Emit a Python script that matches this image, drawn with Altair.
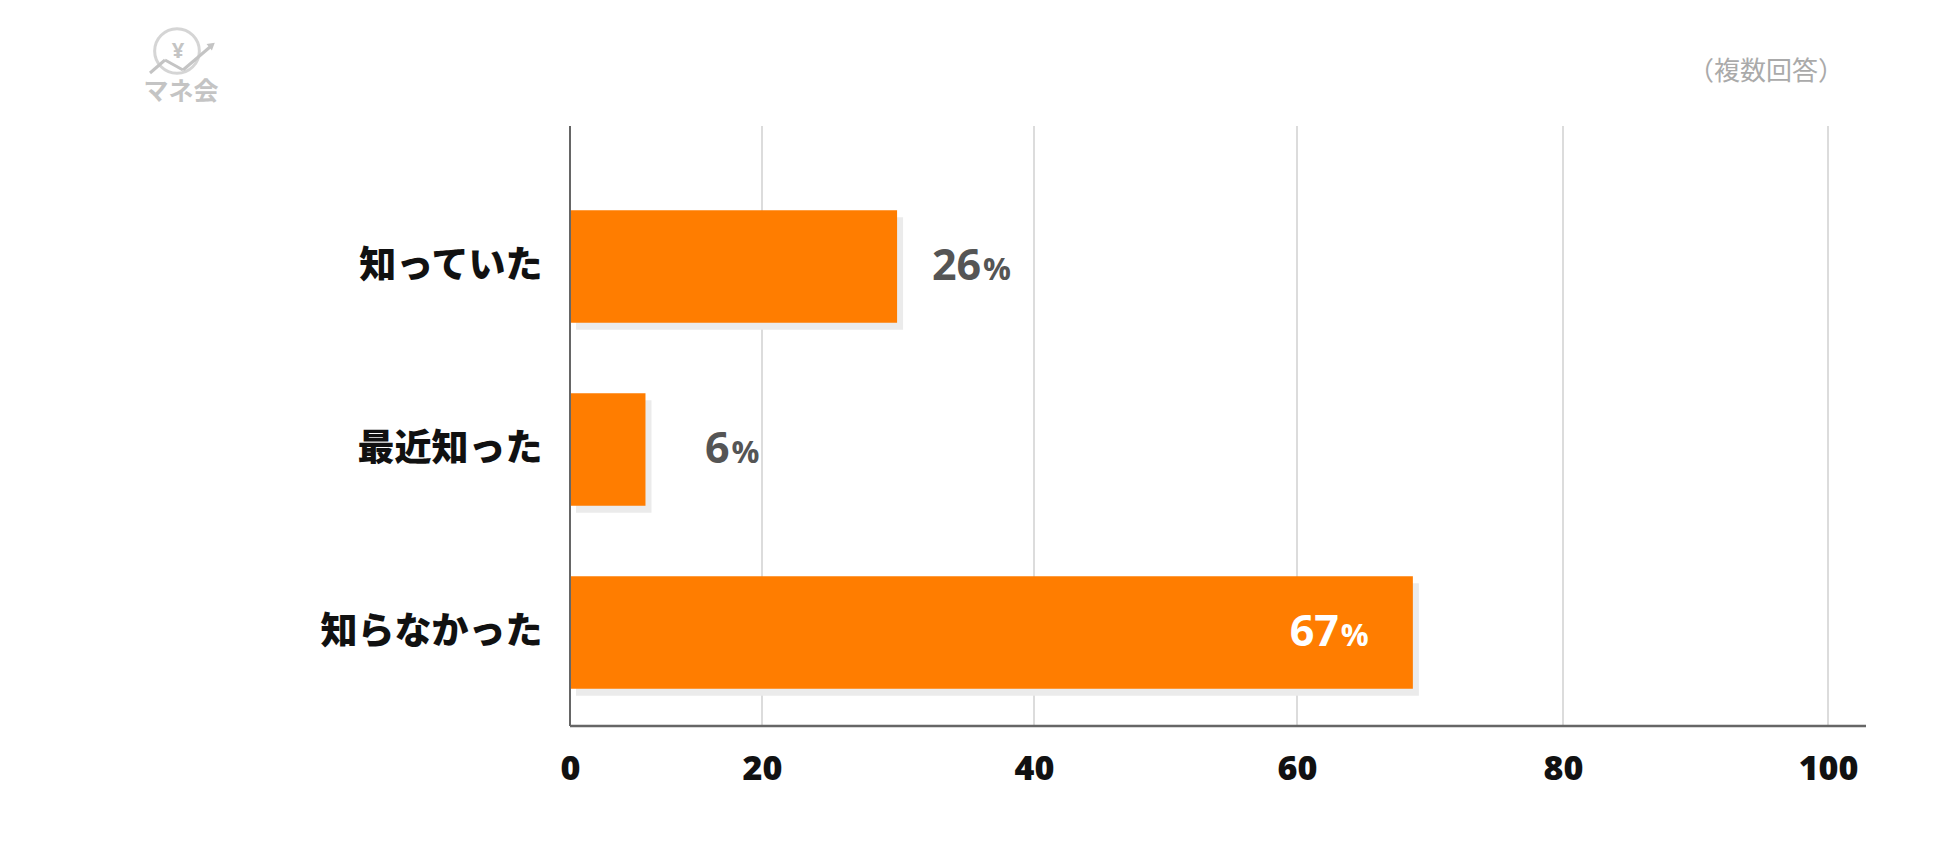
import altair as alt
import pandas as pd

categories = ["知っていた", "最近知った", "知らなかった"]
values = [26, 6, 67]
tick_values = [0, 20, 40, 60, 80, 100]

df = pd.DataFrame({"cat": categories, "value": values})
grid_df = pd.DataFrame({"tick": tick_values})
one = pd.DataFrame({"a": [0]})

W, H = 1296, 600
JP = "Noto Sans CJK JP"
NUM = "Open Sans"

def xbar():
    return alt.X("value:Q", scale=alt.Scale(domain=[0, 100], range=[0, 1258], nice=False, zero=True), axis=None)

yscale = alt.Scale(domain=categories, range=[49, 598], paddingInner=0.386, paddingOuter=0.193)
yaxis = alt.Axis(title=None, domain=False, ticks=False, grid=False, labelFont=JP, labelFontSize=37,
                 labelFontWeight=900, labelColor="#111", labelPadding=28, labelLimit=500)

def ybar():
    return alt.Y("cat:N", scale=yscale, sort=categories, axis=yaxis)

grid = alt.Chart(grid_df).mark_rule(color="#d0d0d0", strokeWidth=1.5).encode(
    x=alt.X("tick:Q",
            scale=alt.Scale(domain=tick_values, range=[0, 192, 464, 727, 993, 1258], nice=False, zero=False),
            axis=alt.Axis(values=tick_values, title=None, domain=False, ticks=False, grid=False,
                          labelFont=NUM, labelFontSize=34, labelFontWeight=800, labelColor="#111",
                          labelPadding=26, labelFlush=False, format="d")),
    y=alt.value(0), y2=alt.value(H),
)

shadow = alt.Chart(df).mark_bar(color="#ebebeb", xOffset=6, x2Offset=6, yOffset=7, y2Offset=7).encode(
    x=xbar(), y=ybar()
)

bars = alt.Chart(df).mark_bar(color="#FF7D00").encode(x=xbar(), y=ybar())

out = alt.Chart(df).transform_filter("datum.value < 50")
out_num = out.mark_text(align="right", baseline="alphabetic", dx=84, dy=13, font=NUM, fontSize=43,
                        fontWeight="bold", color="#555555").encode(x=xbar(), y=ybar(), text="value:Q")
out_pct = out.mark_text(align="left", baseline="alphabetic", dx=86, dy=13, font=NUM, fontSize=31,
                        fontWeight="bold", color="#555555").encode(x=xbar(), y=ybar(), text=alt.value("%"))

ins = alt.Chart(df).transform_filter("datum.value >= 50")
in_num = ins.mark_text(align="right", baseline="alphabetic", dx=-74, dy=13, font=NUM, fontSize=43,
                       fontWeight="bold", color="white").encode(x=xbar(), y=ybar(), text="value:Q")
in_pct = ins.mark_text(align="left", baseline="alphabetic", dx=-72, dy=13, font=NUM, fontSize=31,
                       fontWeight="bold", color="white").encode(x=xbar(), y=ybar(), text=alt.value("%"))

axis_x = alt.Chart(one).mark_rule(color="#666666", strokeWidth=2.5).encode(
    x=alt.value(0), x2=alt.value(W), y=alt.value(H), y2=alt.value(H))
axis_y = alt.Chart(one).mark_rule(color="#666666", strokeWidth=2).encode(
    x=alt.value(0), x2=alt.value(0), y=alt.value(0), y2=alt.value(H))

note = alt.Chart(one).mark_text(align="center", baseline="middle", font=JP, fontSize=26, color="#aaaaaa").encode(
    x=alt.value(1196), y=alt.value(-54), text=alt.value("（複数回答）"))

LOGO = "#c4c4c4"
logo_circle = alt.Chart(one).mark_point(shape="circle", filled=False, size=2000, strokeWidth=3, color=LOGO).encode(
    x=alt.value(-393), y=alt.value(-75))
logo_yen = alt.Chart(one).mark_text(align="center", baseline="middle", font=NUM, fontSize=22, fontWeight="bold",
                                    color=LOGO).encode(x=alt.value(-392), y=alt.value(-75), text=alt.value("¥"))
seg1 = alt.Chart(one).mark_rule(color=LOGO, strokeWidth=3).encode(
    x=alt.value(-420), y=alt.value(-53), x2=alt.value(-405), y2=alt.value(-66))
seg2 = alt.Chart(one).mark_rule(color=LOGO, strokeWidth=3).encode(
    x=alt.value(-405), y=alt.value(-66), x2=alt.value(-387), y2=alt.value(-56))
seg3 = alt.Chart(one).mark_rule(color=LOGO, strokeWidth=3).encode(
    x=alt.value(-387), y=alt.value(-56), x2=alt.value(-360), y2=alt.value(-79))
arrow = alt.Chart(one).mark_point(shape="triangle-up", filled=True, size=70, angle=50, color=LOGO, opacity=1).encode(
    x=alt.value(-358), y=alt.value(-81))
logo_text = alt.Chart(one).mark_text(align="center", baseline="middle", font=JP, fontSize=25, fontWeight="bold",
                                     color=LOGO).encode(x=alt.value(-389), y=alt.value(-34), text=alt.value("マネ会"))

chart = alt.layer(
    grid, shadow, bars, out_num, out_pct, in_num, in_pct, axis_x, axis_y, note,
    logo_circle, logo_yen, seg1, seg2, seg3, arrow, logo_text,
).resolve_scale(x="independent").properties(
    width=W, height=H,
    autosize=alt.AutoSizeParams(type="none"),
    padding={"left": 562, "top": 118, "right": 60, "bottom": 110},
    background="white",
).configure_view(stroke=None)

chart.save("out.html", embed_options={"renderer": "svg", "actions": False})
